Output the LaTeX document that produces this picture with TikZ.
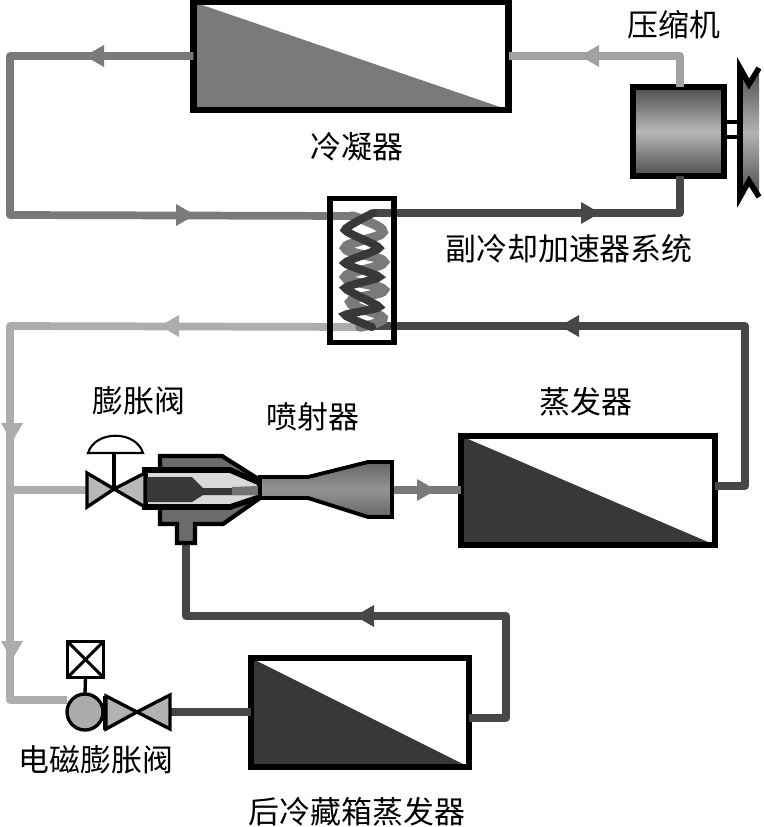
\documentclass[tikz,border=0pt]{standalone}
\usepackage{fontspec}
\setmainfont{Noto Sans CJK SC}
\tikzset{
    pipe/.style={line width=4.4pt,line join=round},
    heavy/.style={draw=black,line width=3.2pt,line join=miter},
    thin part/.style={draw=black,line width=1.9pt,line join=miter},
    coilbox/.style={draw=black,line width=3.8pt,outer sep=0pt,minimum width=#1},
    exchanger/.style={coilbox=#1,path picture={
        \fill[wedge] (path picture bounding box.north west)
            -- (path picture bounding box.south east)
            -- (path picture bounding box.south west) -- cycle;}},
    wedge/.style={fill=gray},
    label/.style={font=\fontsize{17.6}{17.6}\selectfont,inner sep=0pt}
}
\colorlet{pipelight}{black!32}
\colorlet{pipemid}{black!52}
\colorlet{pipedark}{black!72}
\begin{document}
\begin{tikzpicture}[x=0.02cm,y=-0.02cm]
    \useasboundingbox (0,0) rectangle (763,827);
    \fill[white] (0,0) rectangle (763,827);
    % main components
    \coordinate (hxul) at (352,216);
    \coordinate (hxur) at (373,213);
    \coordinate (hxll) at (360,327);
    \coordinate (hxlr) at (372,326);
    \node[exchanger=6.31cm,minimum height=2.16cm,wedge/.style={fill=black!52}] (cond) at (351,56) {};
    \node[exchanger=5.08cm,minimum height=2.18cm,wedge/.style={fill=black!78}] (evap) at (588,490.5) {};
    \node[exchanger=4.36cm,minimum height=2.18cm,wedge/.style={fill=black!78}] (revap) at (360,712.5) {};
    \node[coilbox=1.82cm,line width=3.2pt,minimum height=1.78cm,top color=black!70,bottom color=black!70,middle color=black!28] (comp) at (678.5,131.5) {};
    % pipe runs
    \draw[pipe,pipemid!70] (comp.north -| 680,0) -- (680,56) -- (cond.east |- 0,56);
    \draw[pipe,pipemid] (cond.west |- 0,56) -- (10,56) -- (10,215) -- (hxul);
    \draw[pipe,pipedark] (comp.south -| 680,0) -- (680,213) -- (hxur);
    \draw[pipe,pipedark] (evap.east |- 0,486) -- (745,486) -- (745,326) -- (hxlr);
    \draw[pipe,pipelight] (hxll) -- (10,326) -- (10,700) -- (67,700);
    \draw[pipe,pipelight] (10,490) -- (88,490);
    \draw[pipe,pipemid] (392,490) -- (evap.west |- 0,490);
    \draw[pipe,pipedark] (revap.east |- 0,718) -- (506,718) -- (506,616) -- (186,616) -- (186,543);
    \draw[pipe,pipedark] (170,712) -- (revap.west |- 0,712);
    % flow arrows
    \foreach \x/\y/\dx/\dy/\c in {590/56/-1/0/pipemid!70,95/56/-1/0/pipemid,185/215/1/0/pipemid,
        590/213/1/0/pipedark,570/326/-1/0/pipedark,170/326/-1/0/pipelight,12/432/0/1/pipelight,
        12/650/0/1/pipelight,426/490/1/0/pipemid,365/616/-1/0/pipedark}
        \fill[\c] (\x+10*\dx,\y+10*\dy) -- (\x-9*\dx+11*\dy,\y-9*\dy+11*\dx)
            -- (\x-9*\dx-11*\dy,\y-9*\dy-11*\dx) -- cycle;
    % coil inside the exchanger
    \draw[line width=5.4pt,pipemid,line cap=round] plot[smooth,tension=0.7] coordinates
        {(352,216) (383,232) (345,248) (384,262) (345,277) (384,290) (350,302) (383,318) (360,327)};
    \draw[line width=4.6pt,black!78,line cap=round] plot[smooth,tension=0.3] coordinates
        {(373,213) (345,230) (379,248) (345,263) (379,277) (345,288) (379,307) (345,315) (372,327)};
    \node[draw=black,line width=3.4pt,outer sep=0pt,minimum width=1.28cm,minimum height=2.88cm] (hx) at (362,270.5) {};
    % compressor pulley and shaft
    \draw[thin part] (comp.east |- 0,122) -- (740,122);
    \draw[thin part] (comp.east |- 0,137) -- (740,137);
    \shade[top color=black!70,bottom color=black!70,middle color=black!30]
        (740,68) -- (749,84) -- (759,68) -- (759,197) -- (749,181) -- (740,197) -- cycle;
    \draw[heavy] (759,68) -- (749,84) -- (740,68) -- (740,197) -- (749,181) -- (759,197);
    % ejector
    \draw[thin part,line width=2.4pt,fill=black!58] (160,456) -- (222,456) -- (260,480) -- (260,498) -- (223,524) -- (195,524)
        -- (195,543) -- (177,543) -- (177,524) -- (160,524) -- cycle;
    \draw[heavy,fill=black!15] (145,470) -- (230,470) -- (260,483) -- (260,497) -- (230,507) -- (145,507) -- cycle;
    \fill[black!78] (147,477) -- (192,477) -- (203,488) -- (232,488) -- (237,487) -- (258,487) -- (258,495)
        -- (235,495) -- (203,495) -- (192,502) -- (147,502) -- cycle;
    \fill[black!55] (232,487) -- (258,486) -- (258,495) -- (232,495) -- cycle;
    \draw[thin part,line width=2.2pt,top color=black!60,bottom color=black!60,middle color=black!42] (260,477) -- (308,477) -- (368,462) -- (392,462) -- (392,517) -- (368,517) -- (308,498) -- (260,498) -- cycle;
    % expansion valve
    \draw[thin part,fill=black!28] (114,489) -- (87,473) -- (87,507) -- cycle;
    \draw[thin part,fill=black!28] (114,489) -- (145,473) -- (145,507) -- cycle;
    \draw[thin part] (114,489) -- (114,453);
    \draw[line width=1.2pt,fill=white] (88,453) .. controls (95,430) and (136,430) .. (143,453) -- cycle;
    % solenoid valve
    \node[draw=black,line width=2pt,outer sep=0pt,minimum size=0.72cm] (sol) at (85.5,659.5) {};
    \draw[line width=1.7pt] (sol.north west) -- (sol.south east) (sol.north east) -- (sol.south west);
    \node[circle,draw=black,line width=1.9pt,fill=black!33,outer sep=0pt,minimum size=0.72cm] (solbody) at (85,712) {};
    \draw[thin part] (sol.south) -- (solbody.north);
    \draw[thin part,fill=black!30] (137,712) -- (106,696) -- (106,729) -- cycle;
    \draw[thin part,fill=black!30] (137,712) -- (170,695) -- (170,729) -- cycle;
    \draw[thin part,line width=2.8pt] (105,696) -- (105,730);
    % labels
    \node[label] (lcomp) at (674,25) {压缩机};
    \node[label] (lcond) at (357,147) {冷凝器};
    \node[label] (lhx) at (569,249) {副冷却加速器系统};
    \node[label] (lval) at (139,401) {膨胀阀};
    \node[label] (lej) at (313,417) {喷射器};
    \node[label] (levap) at (586,402) {蒸发器};
    \node[label] (lsol) at (96,760) {电磁膨胀阀};
    \node[label] (lrevap) at (357,812) {后冷藏箱蒸发器};
\end{tikzpicture}
\end{document}
